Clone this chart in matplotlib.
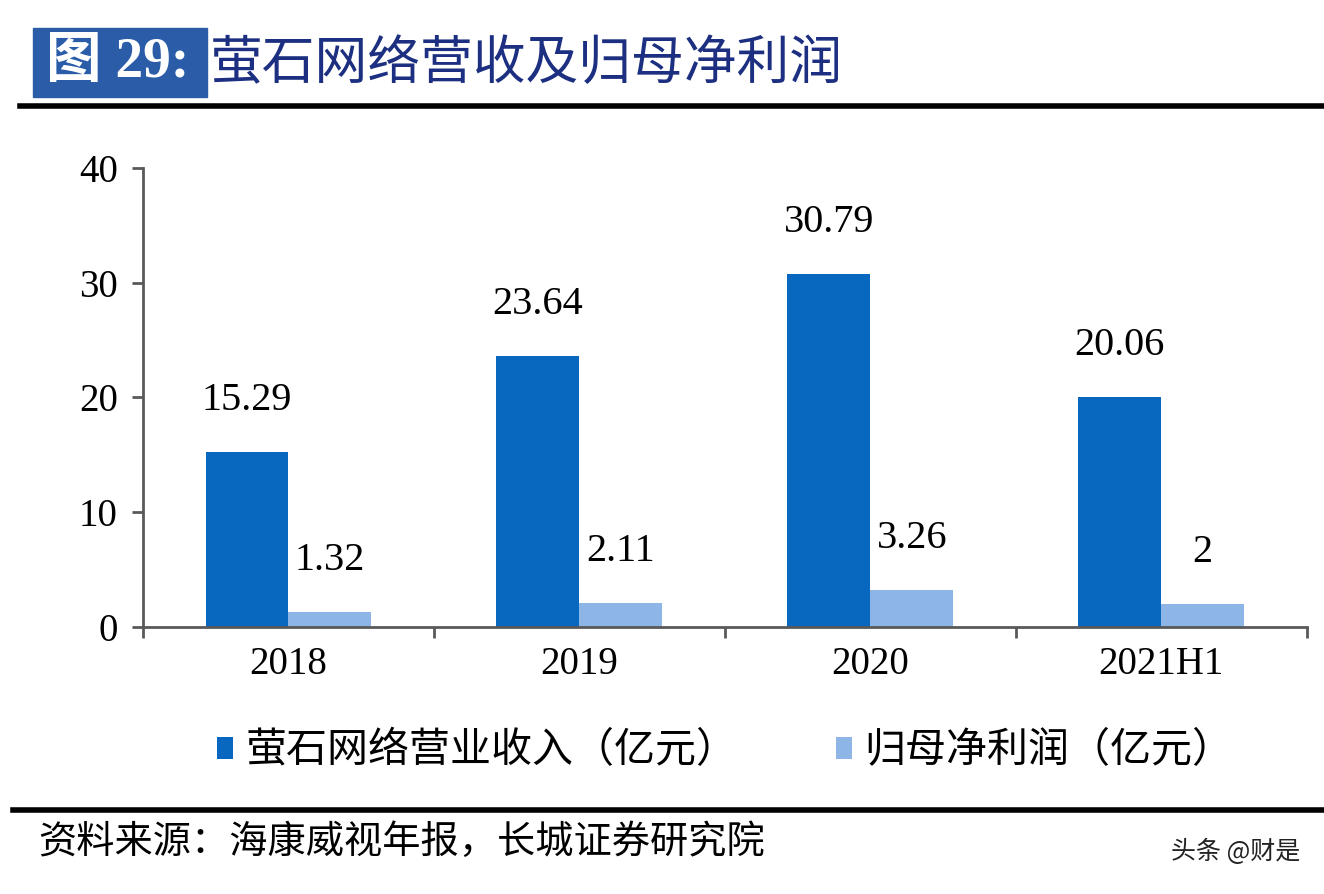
import numpy as np
import matplotlib.pyplot as plt
from matplotlib.patches import Rectangle

# data
years = ['2018', '2019', '2020', '2021H1']
revenue = [15.29, 23.64, 30.79, 20.06]
profit = [1.32, 2.11, 3.26, 2.0]
rev_labels = ['15.29', '23.64', '30.79', '20.06']
prof_labels = ['1.32', '2.11', '3.26', '2']

c_dark = '#0868C0'
c_light = '#8DB5E5'
serif = ['Liberation Serif', 'DejaVu Serif']
cjk = ['Noto Sans CJK SC', 'DejaVu Sans']

fig = plt.figure(figsize=(13.24, 8.94), dpi=100)
ax = fig.add_axes([0.108, 0.2987, 0.879, 0.5134])

x = np.arange(len(years))
w = 0.285
b1 = ax.bar(x - w/2, revenue, w, color=c_dark, label='萤石网络营业收入（亿元）')
b2 = ax.bar(x + w/2, profit, w, color=c_light, label='归母净利润（亿元）')

for xi, v, s in zip(x - w/2, revenue, rev_labels):
    ax.annotate(s, (xi, v), xytext=(0, 37), textcoords='offset points',
                ha='center', va='center', fontsize=29, family=serif)
for xi, v, s in zip(x + w/2, profit, prof_labels):
    ax.annotate(s, (xi, v), xytext=(0, 37), textcoords='offset points',
                ha='center', va='center', fontsize=29, family=serif)

ax.set_xlim(-0.5, 3.5)
ax.set_ylim(0, 40)
ax.set_yticks([0, 10, 20, 30, 40])
ax.set_xticks(x)
ax.set_xticklabels(years)
ax.set_xticks(np.arange(-0.5, 4, 1), minor=True)
ax.tick_params(axis='x', which='major', length=0, pad=14)
ax.tick_params(axis='x', which='minor', length=8, width=2, color='#595959')
ax.tick_params(axis='y', length=8, width=2, color='#595959', pad=10)
for lab in ax.get_xticklabels() + ax.get_yticklabels():
    lab.set_family(serif)
    lab.set_fontsize(28)
for sp in ['top', 'right']:
    ax.spines[sp].set_visible(False)
for sp in ['left', 'bottom']:
    ax.spines[sp].set_color('#595959')
    ax.spines[sp].set_linewidth(2)

leg = ax.legend(loc='upper center', bbox_to_anchor=(0.5, -0.145), ncol=2,
                frameon=False, prop={'family': cjk, 'size': 29.5},
                handlelength=0.4, handleheight=0.45, handletextpad=0.3,
                columnspacing=2.4)

# title block
fig.patches.append(Rectangle((33/1324, 1 - 97/894), 174/1324, 69/894,
                             transform=fig.transFigure, color='#2A5CA8'))
fig.text(118/1324, 1 - 63/894, '图 29:', color='white', fontsize=40,
         fontweight='bold', family=['Liberation Serif', 'Noto Sans CJK SC'],
         ha='center', va='center')
fig.text(210/1324, 1 - 63/894, '萤石网络营收及归母净利润', color='#1C2F80',
         fontsize=38, family=cjk, ha='left', va='center')
fig.add_artist(plt.Line2D([20/1324, 1], [1 - 106/894] * 2, color='black',
                          linewidth=4, transform=fig.transFigure))
fig.add_artist(plt.Line2D([13/1324, 1], [1 - 810/894] * 2, color='black',
                          linewidth=4, transform=fig.transFigure))
fig.text(38/1324, 1 - 842/894, '资料来源：海康威视年报，长城证券研究院',
         fontsize=27.5, family=cjk, style='italic', ha='left', va='center')
fig.text(1300/1324, 1 - 852/894, '头条 @财是', fontsize=18, family=cjk,
         ha='right', va='center', color='#222222')

fig.savefig('out.png', dpi=100)
